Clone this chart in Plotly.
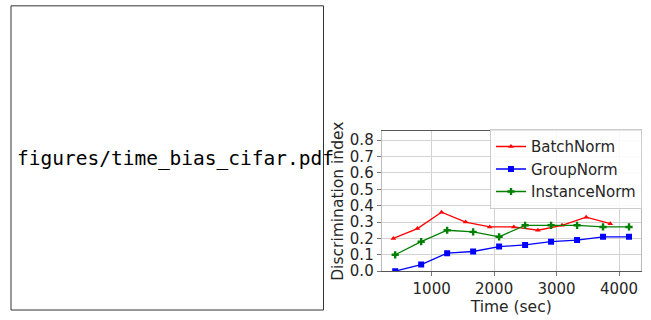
import plotly.graph_objects as go

# Data
batch_time = [386, 772, 1158, 1544, 1930, 2316, 2702, 3088, 3474, 3860]
batch_vals = [0.20, 0.26, 0.36, 0.30, 0.27, 0.27, 0.25, 0.28, 0.33, 0.29]

group_time = [416, 832, 1248, 1664, 2080, 2496, 2912, 3328, 3744, 4160]
group_vals = [0.00, 0.04, 0.11, 0.12, 0.15, 0.16, 0.18, 0.19, 0.21, 0.21]

inst_time = [416, 832, 1248, 1664, 2080, 2496, 2912, 3328, 3744, 4160]
inst_vals = [0.10, 0.18, 0.25, 0.24, 0.21, 0.28, 0.28, 0.28, 0.27, 0.27]

x_ticks = [1000, 2000, 3000, 4000]
y_ticks = [0.0, 0.1, 0.2, 0.3, 0.4, 0.5, 0.6, 0.7, 0.8]

placeholder_text = "figures/time_bias_cifar.pdf"

W, H = 651, 320


def fx(px):
    return px / W


def fy(py):
    return (H - py) / H


font = "DejaVu Sans"

fig = go.Figure()
fig.add_trace(go.Scatter(x=batch_time, y=batch_vals, name="BatchNorm", mode="lines+markers",
                         line=dict(color="#ff0000", width=1.3),
                         marker=dict(symbol="triangle-up", size=5, color="#ff0000")))
fig.add_trace(go.Scatter(x=group_time, y=group_vals, name="GroupNorm", mode="lines+markers",
                         line=dict(color="#0000ff", width=1.3),
                         marker=dict(symbol="square", size=6, color="#0000ff")))
fig.add_trace(go.Scatter(x=inst_time, y=inst_vals, name="InstanceNorm", mode="lines+markers",
                         line=dict(color="#008000", width=1.3),
                         marker=dict(symbol="cross", size=6, color="#008000")))

fig.update_layout(
    width=W, height=H,
    margin=dict(l=0, r=0, t=0, b=0),
    paper_bgcolor="white", plot_bgcolor="white",
    font=dict(family=font, size=15, color="#262626"),
    xaxis=dict(domain=[fx(381.7), fx(640.7)], range=[200, 4347],
               tickvals=x_ticks, ticktext=[str(v) for v in x_ticks],
               showgrid=True, gridcolor="#d3d3d3", gridwidth=0.8,
               ticks="outside", ticklen=4, tickcolor="#777777",
               showline=True, linecolor="#555555", linewidth=1, mirror=True,
               zeroline=False,
               title=dict(text="Time (sec)", standoff=2, font=dict(size=15.5)),
               tickfont=dict(size=15)),
    yaxis=dict(domain=[fy(279), fy(135)], range=[0, 0.855],
               tickvals=y_ticks, ticktext=["%.1f" % v for v in y_ticks],
               showgrid=True, gridcolor="#d3d3d3", gridwidth=0.8,
               ticks="outside", ticklen=4, tickcolor="#777777",
               showline=True, linecolor="#bbbbbb", linewidth=1, mirror=True,
               zeroline=False,
               title=dict(text="Discrimination index", standoff=2, font=dict(size=15.5)),
               tickfont=dict(size=15)),
    legend=dict(x=fx(642), xanchor="right", y=fy(133), yanchor="top",
                bgcolor="rgba(255,255,255,0.85)", bordercolor="#cccccc", borderwidth=1,
                font=dict(size=15)),
    shapes=[dict(type="rect", xref="paper", yref="paper",
                 x0=fx(11), x1=fx(323.5), y0=fy(319), y1=fy(6),
                 line=dict(color="#333333", width=1))],
    annotations=[dict(text=placeholder_text, xref="paper", yref="paper",
                      x=fx(15), y=fy(163), xanchor="left", yanchor="middle",
                      showarrow=False,
                      font=dict(family="DejaVu Sans Mono", size=19.5, color="black"))],
)

fig.write_html("out.html",
               config={"displayModeBar": False},
               post_script="document.body.style.margin='0';"
                           "document.body.style.overflow='hidden';"
                           "window.scrollTo(0,0);")
